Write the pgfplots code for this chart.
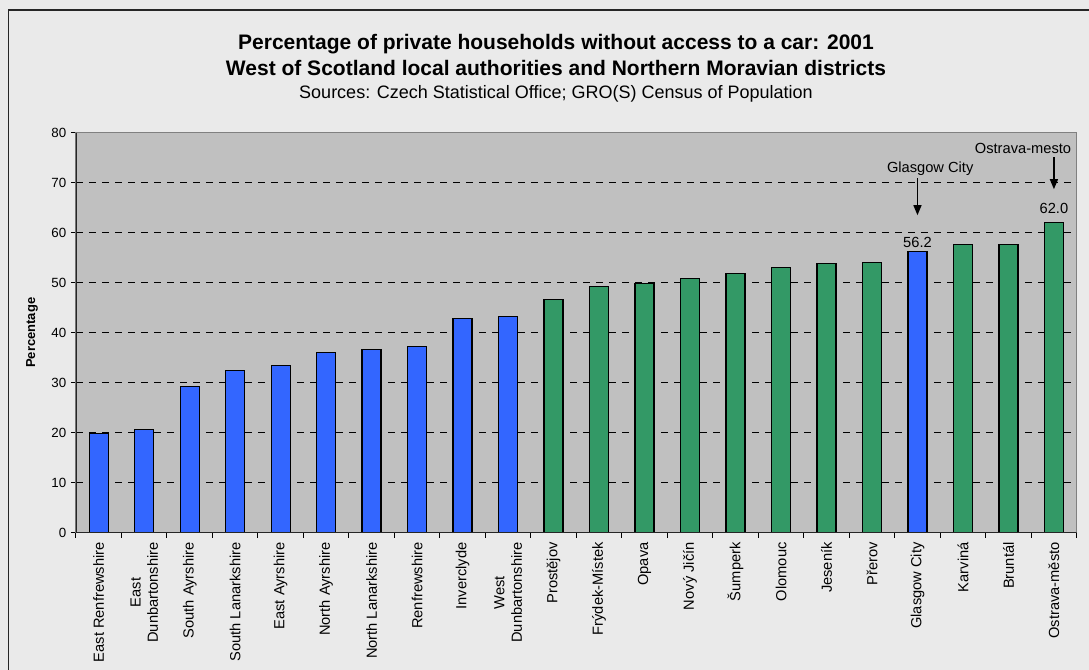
\documentclass[border=0pt]{standalone}
\usepackage{pgfplots}
\pgfplotsset{compat=1.18}
\usepackage{fontspec}
\setmainfont{Liberation Sans}
\usetikzlibrary{arrows.meta}
\definecolor{bgout}{HTML}{EAEAEA}
\definecolor{plotbg}{HTML}{C0C0C0}
\definecolor{barblue}{HTML}{3366FF}
\definecolor{bargreen}{HTML}{339966}
\begin{document}
\begin{tikzpicture}
\fill[bgout] (0,0) rectangle (816.75pt,502.5pt);
\path[use as bounding box] (0,0) rectangle (816.75pt,502.5pt);
\draw[line width=1.1pt, black!85] (6.4pt,-2pt) -- (6.4pt,495pt) -- (820pt,495pt);
\node[anchor=base, font=\fontsize{15.75}{18}\selectfont\bfseries] at (417pt,465.5pt) {Percentage of private households without access to a car: 2001};
\node[anchor=base, font=\fontsize{15.75}{18}\selectfont\bfseries] at (417pt,445.5pt) {West of Scotland local authorities and Northern Moravian districts};
\node[anchor=base, font=\fontsize{13.5}{16}\selectfont] at (417pt,428.25pt) {Sources: Czech Statistical Office; GRO(S) Census of Population};
\begin{axis}[
  at={(57pt,102.975pt)}, anchor=south west,
  width=750.5pt, height=300pt, scale only axis,
  ybar, bar width=14.25pt,
  xmin=-0.5, xmax=21.5, ymin=0, ymax=80,
  ytick={0,10,...,80},
  xtick={0,...,21},
  xticklabels={East Renfrewshire,{East\\Dunbartonshire},South Ayrshire,South Lanarkshire,East Ayrshire,North Ayrshire,North Lanarkshire,Renfrewshire,Inverclyde,{West\\Dunbartonshire},Prostějov,Frýdek-Místek,Opava,Nový Jičín,Šumperk,Olomouc,Jeseník,Přerov,Glasgow City,Karviná,Bruntál,Ostrava-město},
  minor xtick={-0.5,0.5,...,21.5},
  xtick pos=bottom, ytick pos=left,
  tick align=outside,
  major tick length=3.75pt, minor tick length=3.75pt,
  major x tick style={draw=none},
  every tick/.style={black, line width=0.75pt},
  minor tick style={black, line width=0.75pt},
  axis background/.style={fill=plotbg},
  axis line style={draw=gray, line width=0.9pt},
  ymajorgrids,
  major grid style={black, line width=0.75pt, dash pattern=on 5.25pt off 4.5pt},
  /pgf/number format/assume math mode=true,
  yticklabel style={font=\fontsize{10}{12}\selectfont},
  xticklabel style={rotate=90, anchor=east, align=center, font=\fontsize{11}{13}\selectfont},
  ylabel={Percentage},
  every axis y label/.style={at={(axis description cs:-0.044,0.5)}, rotate=90, anchor=center, font=\fontsize{9.75}{12}\selectfont\bfseries},
]
\addplot[fill=barblue, draw=black, line width=1pt, bar shift=0pt] coordinates {
(0,19.9) (1,20.7) (2,29.3) (3,32.4) (4,33.5) (5,36.1) (6,36.6) (7,37.2) (8,42.8) (9,43.3)};
\addplot[fill=bargreen, draw=black, line width=1pt, bar shift=0pt] coordinates {
(10,46.7) (11,49.3) (12,49.9) (13,50.9) (14,51.9) (15,53.1) (16,53.9) (17,54.1) (19,57.7) (20,57.7)};
\addplot[fill=barblue, draw=black, line width=1pt, bar shift=0pt,
  nodes near coords, nodes near coords style={font=\fontsize{11}{13}\selectfont, anchor=south, yshift=-1pt},
  /pgf/number format/.cd, fixed, precision=1, fixed zerofill] coordinates {(18,56.2)};
\addplot[fill=bargreen, draw=black, line width=1pt, bar shift=0pt,
  nodes near coords, nodes near coords style={font=\fontsize{11}{13}\selectfont, anchor=south, yshift=3pt},
  /pgf/number format/.cd, fixed, precision=1, fixed zerofill] coordinates {(21,62.0)};
\draw[black!85, line width=1pt] (rel axis cs:0,1) -- (rel axis cs:0,0) -- (rel axis cs:1,0);
\draw[-{Triangle[width=6pt,length=7.5pt]}, line width=1pt] (axis cs:18,70.9) -- (axis cs:18,63.5);
\draw[-{Triangle[width=6pt,length=7.5pt]}, line width=1pt] (axis cs:21,75.1) -- (axis cs:21,68.7);
\node[font=\fontsize{11}{13}\selectfont] at (axis cs:18.28,72.7) {Glasgow City};
\node[font=\fontsize{11}{13}\selectfont] at (axis cs:20.32,76.9) {Ostrava-mesto};
\end{axis}
\end{tikzpicture}
\end{document}
